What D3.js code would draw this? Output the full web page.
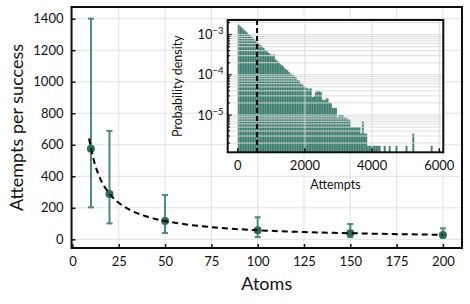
<!DOCTYPE html>
<html>
<head>
<meta charset="utf-8">
<script src="https://cdn.jsdelivr.net/npm/d3@7"></script>
<style>
  body { margin: 0; background: #fff; }
  text { font-family: Lato, sans-serif; fill: #111; }
</style>
</head>
<body>
<div id="chart"></div>
<script>
// main panel data
const atoms = [10, 20, 50, 100, 150, 200]
const meanAttempts = [575, 287, 116, 57, 38, 27]
const lowerAttempts = [203, 101, 40, 14, 13, 11]
const upperAttempts = [1400, 688, 281, 140, 97, 70]

// dashed fit
const fitAtoms = [9, 10, 12, 15, 20, 25, 30, 40, 50, 60, 75, 100, 125, 150, 175, 200]
const fitAttempts = [640, 578, 482, 385, 290, 232, 193, 145, 116, 97, 77, 58, 46, 39, 33, 29]

const xTicks = [0, 25, 50, 75, 100, 125, 150, 175, 200]
const yTicks = [0, 200, 400, 600, 800, 1000, 1200, 1400]

// inset histogram: density per bin of 50 attempts, starting at 0
const binWidth = 50
const histDensity = [
  1.76e-3, 1.61e-3, 1.47e-3, 1.34e-3, 1.23e-3, 1.12e-3, 1.03e-3, 9.4e-4, 8.5e-4, 7.8e-4,
  7.1e-4, 6.5e-4, 6.0e-4, 5.4e-4, 5.0e-4, 4.5e-4, 4.1e-4, 3.8e-4, 3.5e-4, 3.2e-4,
  2.9e-4, 3.2e-4, 2.4e-4, 2.2e-4, 2.0e-4, 1.8e-4, 1.7e-4, 1.5e-4, 1.4e-4, 1.3e-4,
  1.17e-4, 1.07e-4, 9.7e-5, 9.6e-5, 8.8e-5, 7.4e-5, 7.2e-5, 6.2e-5, 5.6e-5, 5.2e-5,
  4.8e-5, 4.6e-5, 4.4e-5, 4.5e-5, 2.8e-5, 2.9e-5, 3.6e-5, 3.9e-5, 3.9e-5, 3.7e-5,
  2.4e-5, 2.3e-5, 2.4e-5, 2.6e-5, 2.0e-5, 2.0e-5, 1.5e-5, 1.5e-5, 1.5e-5, 8.5e-6,
  1.0e-5, 1.0e-5, 1.0e-5, 8.5e-6, 8.5e-6, 7.6e-6, 7.6e-6, 5.0e-6, 5.0e-6, 5.0e-6,
  5.0e-6, 5.0e-6, 5.0e-6, 3.4e-6, 6.8e-6, 3.4e-6, 3.4e-6, 1.7e-6, 1.7e-6, 1.7e-6,
  1.7e-6, 1.7e-6, 1.7e-6, 1.7e-6, 1.7e-6, 0, 0, 1.7e-6, 0, 0,
  1.7e-6, 0, 0, 0, 1.7e-6, 0, 0, 0, 0, 0,
  1.7e-6, 0, 0, 0, 3.4e-6, 0, 0, 0, 0, 0,
  0, 0, 0, 0, 0, 1.7e-6, 0
]
const meanLine = 575
const insetXTicks = [0, 2000, 4000, 6000]
const insetYTicks = [1e-3, 1e-4, 1e-5]
const insetYLabels = ["−3", "−4", "−5"]

const W = 470, H = 304
const teal = "#4b8a7c", tealDark = "#2f6b5d", barColor = "#3f7d6f"
const gridColor = "#e3e3e3"

const svg = d3.select("#chart").append("svg")
  .attr("width", W).attr("height", H)

// ---- main panel ----
const x = d3.scaleLinear().domain([-0.5, 210.3]).range([71.5, 462])
const y = d3.scaleLinear().domain([-55, 1474]).range([248, 7])

const grid = svg.append("g")
grid.selectAll("line.vx").data(xTicks).enter().append("line")
  .attr("x1", d => x(d)).attr("x2", d => x(d))
  .attr("y1", y.range()[1]).attr("y2", y.range()[0])
  .attr("stroke", gridColor).attr("stroke-width", 1)
grid.selectAll("line.hy").data(yTicks).enter().append("line")
  .attr("y1", d => y(d)).attr("y2", d => y(d))
  .attr("x1", x.range()[0]).attr("x2", x.range()[1])
  .attr("stroke", gridColor).attr("stroke-width", 1)

// axes with inward ticks
const xAxis = svg.append("g").attr("transform", "translate(0," + y.range()[0] + ")")
  .call(d3.axisBottom(x).tickValues(xTicks).tickSizeInner(-4).tickSizeOuter(0).tickPadding(9))
const yAxis = svg.append("g").attr("transform", "translate(" + x.range()[0] + ",0)")
  .call(d3.axisLeft(y).tickValues(yTicks).tickFormat(d3.format("d")).tickSizeInner(-4).tickSizeOuter(0).tickPadding(8))
;[xAxis, yAxis].forEach(a => {
  a.select(".domain").remove()
  a.selectAll(".tick line").attr("stroke", "#111").attr("stroke-width", 1.5)
  a.selectAll(".tick text").style("font-size", "13px").style("font-family", "Lato, sans-serif")
})

// error bars
const pts = atoms.map((a, i) => ({ a: a, m: meanAttempts[i], lo: lowerAttempts[i], hi: upperAttempts[i] }))
const eb = svg.append("g")
eb.selectAll("line.bar").data(pts).enter().append("line")
  .attr("x1", d => x(d.a)).attr("x2", d => x(d.a))
  .attr("y1", d => y(d.lo)).attr("y2", d => y(d.hi))
  .attr("stroke", teal).attr("stroke-width", 2)
eb.selectAll("line.capHi").data(pts).enter().append("line")
  .attr("x1", d => x(d.a) - 3).attr("x2", d => x(d.a) + 3)
  .attr("y1", d => y(d.hi)).attr("y2", d => y(d.hi))
  .attr("stroke", teal).attr("stroke-width", 2)
eb.selectAll("line.capLo").data(pts).enter().append("line")
  .attr("x1", d => x(d.a) - 3).attr("x2", d => x(d.a) + 3)
  .attr("y1", d => y(d.lo)).attr("y2", d => y(d.lo))
  .attr("stroke", teal).attr("stroke-width", 2)
eb.selectAll("circle").data(pts).enter().append("circle")
  .attr("cx", d => x(d.a)).attr("cy", d => y(d.m)).attr("r", 4)
  .attr("fill", tealDark)

// dashed fit
const fit = fitAtoms.map((a, i) => [a, fitAttempts[i]])
svg.append("path")
  .attr("d", d3.line().x(d => x(d[0])).y(d => y(d[1])).curve(d3.curveMonotoneX)(fit))
  .attr("fill", "none").attr("stroke", "#000").attr("stroke-width", 2)
  .attr("stroke-dasharray", "6,4")

// frame
svg.append("rect")
  .attr("x", x.range()[0]).attr("y", y.range()[1])
  .attr("width", x.range()[1] - x.range()[0]).attr("height", y.range()[0] - y.range()[1])
  .attr("fill", "none").attr("stroke", "#111").attr("stroke-width", 2)

svg.append("text").attr("x", (x.range()[0] + x.range()[1]) / 2).attr("y", 290)
  .attr("text-anchor", "middle").style("font-size", "18px").text("Atoms")
svg.append("text").attr("transform", "translate(23," + (y.range()[0] + y.range()[1]) / 2 + ") rotate(-90)")
  .attr("text-anchor", "middle").style("font-size", "18px").text("Attempts per success")

// ---- inset ----
const ix = d3.scaleLinear().domain([-300, 6120]).range([227.7, 443.3])
const iy = d3.scaleLog().domain([1.18e-6, 2.32e-3]).range([152.3, 20])
const inset = svg.append("g")

inset.append("rect")
  .attr("x", ix.range()[0]).attr("y", iy.range()[1])
  .attr("width", ix.range()[1] - ix.range()[0]).attr("height", iy.range()[0] - iy.range()[1])
  .attr("fill", "#fff")

const bins = histDensity.map((d, i) => ({ x0: i * binWidth, x1: (i + 1) * binWidth, d: d })).filter(b => b.d > 0)
inset.selectAll("rect.bin").data(bins).enter().append("rect")
  .attr("x", b => ix(b.x0)).attr("width", b => ix(b.x1) - ix(b.x0))
  .attr("y", b => iy(b.d)).attr("height", b => iy.range()[0] - iy(b.d))
  .attr("fill", barColor).attr("stroke", "#5e998b").attr("stroke-width", 0.25)

// log grid (major + minor) drawn over the bars
const logTicks = iy.ticks().filter(t => t >= iy.domain()[0] && t <= iy.domain()[1])
inset.selectAll("line.ly").data(logTicks).enter().append("line")
  .attr("x1", ix.range()[0]).attr("x2", ix.range()[1])
  .attr("y1", d => iy(d)).attr("y2", d => iy(d))
  .attr("stroke", "#d9d9d9").attr("stroke-width", 0.9)
inset.selectAll("line.lx").data(insetXTicks).enter().append("line")
  .attr("x1", d => ix(d)).attr("x2", d => ix(d))
  .attr("y1", iy.range()[1]).attr("y2", iy.range()[0])
  .attr("stroke", "#d9d9d9").attr("stroke-width", 0.9)

inset.append("line")
  .attr("x1", ix(meanLine)).attr("x2", ix(meanLine))
  .attr("y1", iy.range()[1]).attr("y2", iy.range()[0])
  .attr("stroke", "#000").attr("stroke-width", 2).attr("stroke-dasharray", "5,3")

// inset ticks
inset.selectAll("line.tx").data(insetXTicks).enter().append("line")
  .attr("x1", d => ix(d)).attr("x2", d => ix(d))
  .attr("y1", iy.range()[0]).attr("y2", iy.range()[0] - 4)
  .attr("stroke", "#111").attr("stroke-width", 1.5)
inset.selectAll("line.ty").data(logTicks).enter().append("line")
  .attr("x1", ix.range()[0])
  .attr("x2", d => ix.range()[0] + (insetYTicks.includes(d) ? 4 : 2.2))
  .attr("y1", d => iy(d)).attr("y2", d => iy(d))
  .attr("stroke", "#111").attr("stroke-width", 1.2)

inset.append("rect")
  .attr("x", ix.range()[0]).attr("y", iy.range()[1])
  .attr("width", ix.range()[1] - ix.range()[0]).attr("height", iy.range()[0] - iy.range()[1])
  .attr("fill", "none").attr("stroke", "#111").attr("stroke-width", 2)

inset.selectAll("text.xl").data(insetXTicks).enter().append("text")
  .attr("x", d => ix(d)).attr("y", 169.5).attr("text-anchor", "middle")
  .style("font-size", "13px").text(d => d)

const yl = inset.selectAll("text.yl").data(insetYTicks).enter().append("text")
  .attr("x", 223.5).attr("y", d => iy(d) + 4.5).attr("text-anchor", "end")
  .style("font-size", "13px")
yl.append("tspan").text("10")
yl.append("tspan").attr("dy", -5).style("font-size", "9.5px").text((d, i) => insetYLabels[i])

inset.append("text").attr("x", (ix.range()[0] + ix.range()[1]) / 2).attr("y", 189)
  .attr("text-anchor", "middle").style("font-size", "12.5px").text("Attempts")
inset.append("text").attr("transform", "translate(182," + (iy.range()[0] + iy.range()[1]) / 2 + ") rotate(-90)")
  .attr("text-anchor", "middle").style("font-size", "12.5px").text("Probability density")
</script>
</body>
</html>
